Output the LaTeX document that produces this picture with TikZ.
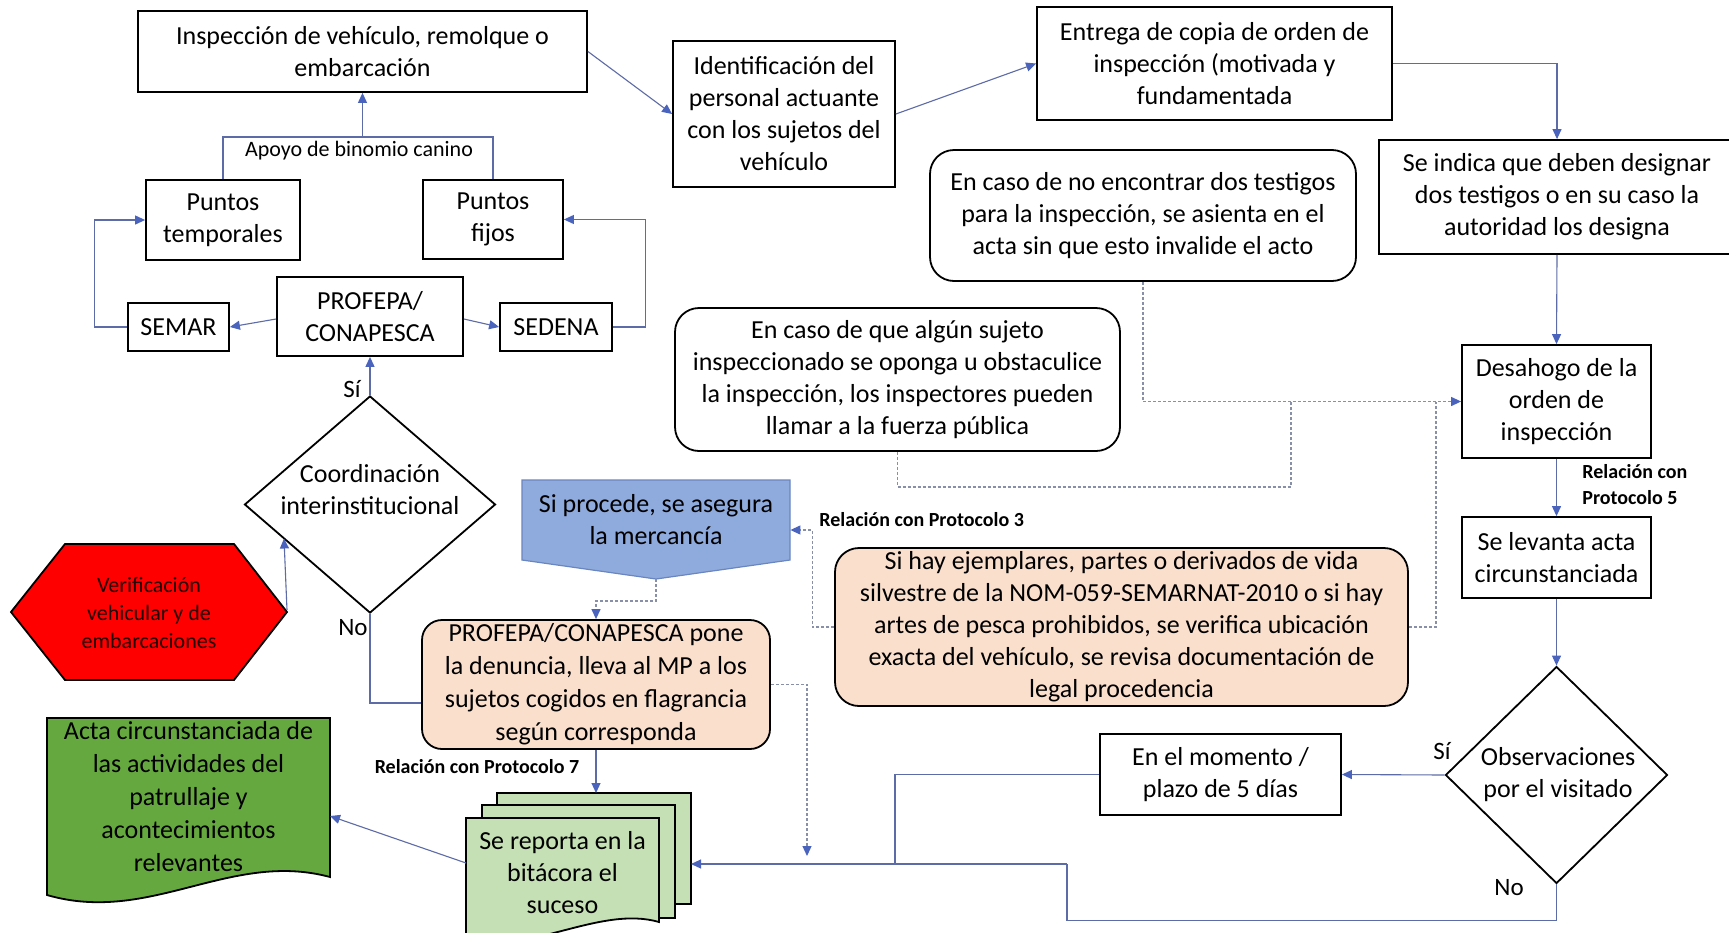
\documentclass[tikz,border=0pt]{standalone}
\usepackage{fontspec}
\setmainfont{Carlito}
\usetikzlibrary{shapes.geometric,arrows.meta,calc}
\definecolor{lnc}{HTML}{5D6BA6}
\definecolor{ahc}{HTML}{4A64BE}
\definecolor{dashc}{HTML}{8890A8}
\definecolor{peach}{HTML}{FADFCD}
\definecolor{lblue}{HTML}{8FAADC}
\definecolor{lblueb}{HTML}{6A86C0}
\definecolor{lgreen}{HTML}{C5E0B4}
\definecolor{dgreen}{HTML}{66A840}
\begin{document}
\begin{tikzpicture}[x=0.5pt,y=-0.5pt,
  mainfs/.style={font=\fontsize{13}{16}\selectfont},
  bx/.style 2 args={draw, line width=0.9pt, minimum width=#1*0.5pt, minimum height=#2*0.5pt, align=center, inner sep=0pt, font=\fontsize{13}{16}\selectfont},
  rbx/.style 2 args={bx={#1}{#2}, rounded corners=12pt},
  conn/.style={draw=lnc, line width=0.55pt},
  arr/.style={conn, -{Triangle[length=5pt,width=4.5pt,color=ahc]}},
  dline/.style={draw=dashc, line width=0.6pt, dash pattern=on 1.5pt off 1pt},
  darr/.style={dline, -{Triangle[length=5pt,width=4.5pt,color=ahc]}},
  lbl/.style={font=\fontsize{10}{13}\selectfont\bfseries, align=left, inner sep=0pt},
  yn/.style={font=\fontsize{12.5}{15}\selectfont, inner sep=0pt},
  shp/.style={draw, line width=0.9pt}
]
\fill[white] (0,0) rectangle (1729,932);
\useasboundingbox (0,0) rectangle (1729,932);

% top row
\node[bx={449}{81}] (insp) at (362.5,51.5) {Inspección de vehículo, remolque o\\embarcación};
\node[bx={222}{146}] (ident) at (784,114) {Identificación del\\personal actuante\\con los sujetos del\\vehículo};
\node[bx={355}{113}] (entrega) at (1214.5,63.5) {Entrega de copia de orden de\\inspección (motivada y\\fundamentada};
\node[bx={356}{114}] (indica) at (1557,197) {Se indica que deben designar\\dos testigos o en su caso la\\autoridad los designa};
\node[rbx={426}{131}] (testigos) at (1143,215.5) {En caso de no encontrar dos testigos\\para la inspección, se asienta en el\\acta sin que esto invalide el acto};
\node[rbx={445}{143}] (fuerza) at (897.5,379.5) {En caso de que algún sujeto\\inspeccionado se oponga u obstaculice\\la inspección, los inspectores pueden\\llamar a la fuerza pública};
\node[bx={189}{113}] (desahogo) at (1556.5,401.5) {Desahogo de la\\orden de\\inspección};
\node[bx={189}{81}] (levanta) at (1556.5,557.5) {Se levanta acta\\circunstanciada};
\node[diamond, draw, line width=0.9pt, minimum width=222*0.5pt, minimum height=217*0.5pt, inner sep=0pt] (obs) at (1556.5,775) {};
\node[mainfs, align=center, inner sep=0pt] (obst) at (1558,775) {Observaciones\\por el visitado};
\node[bx={241}{81}] (momento) at (1220.5,774.5) {En el momento /\\plazo de 5 días};
\node[rbx={573}{158}, fill=peach] (ejem) at (1121.5,627) {Si hay ejemplares, partes o derivados de vida\\silvestre de la NOM-059-SEMARNAT-2010 o si hay\\artes de pesca prohibidos, se verifica ubicación\\exacta del vehículo, se revisa documentación de\\legal procedencia};

% Si procede shape
\path[draw=lblueb, fill=lblue, line width=0.6pt] (522,480) -- (790,480) -- (790,560) -- (656,579) -- (522,560) -- cycle;
\node[mainfs, align=center, inner sep=0pt, minimum width=268*0.5pt, minimum height=80*0.5pt] (procede) at (656,520) {Si procede, se asegura\\la mercancía};
\coordinate (procedetip) at (656,579);

\node[bx={348}{129}, fill=peach, rounded corners=10pt, font=\fontsize{13}{16.5}\selectfont] (pone) at (596,684.5) {PROFEPA/CONAPESCA pone\\la denuncia, lleva al MP a los\\sujetos cogidos en flagrancia\\según corresponda};

% multidocument
\path[shp, fill=lgreen] (497,793) rectangle (691,904);
\path[shp, fill=lgreen] (482,805) rectangle (675,918);
\path[shp, fill=lgreen] (466,818) -- (659,818) -- (659,922) .. controls (600,905) and (530,955) .. (466,940) -- cycle;
\node[mainfs, align=center, inner sep=0pt] (reporta) at (562.5,873) {Se reporta en la\\bitácora el\\suceso};
\coordinate (repL) at (466,863);
\coordinate (repR) at (691,864);
\coordinate (repT) at (596,793);

% acta document
\path[shp, fill=dgreen] (47,718) -- (330,718) -- (330,877) .. controls (230,850) and (150,925) .. (47,895) -- cycle;
\node[font=\fontsize{13}{16.5}\selectfont, align=center, inner sep=0pt] (acta) at (188.5,797) {Acta circunstanciada de\\las actividades del\\patrullaje y\\acontecimientos\\relevantes};
\coordinate (actaR) at (330,816);

% hexagon
\path[shp, fill=red] (11,612) -- (65,544) -- (234,544) -- (287,612) -- (234,680) -- (65,680) -- cycle;
\node[font=\fontsize{11}{14}\selectfont, align=center, inner sep=0pt, text=black!85!red] (verif) at (149,612.5) {Verificación\\vehicular y de\\embarcaciones};
\coordinate (verifR) at (287,610);
\coordinate (verifT) at (284,538.5);

% coordination diamond
\node[diamond, draw, line width=0.9pt, minimum width=251*0.5pt, minimum height=217*0.5pt, inner sep=0pt] (coord) at (370,504.5) {};
\node[mainfs, align=center, inner sep=0pt] (coordt) at (370,490) {Coordinación\\interinstitucional};

\node[bx={186}{79}] (profepa) at (370,316.5) {PROFEPA/\\CONAPESCA};
\node[bx={101}{48}] (semar) at (178.5,327) {SEMAR};
\node[bx={112}{48}] (sedena) at (556,327) {SEDENA};
\node[bx={154}{80}] (ptemp) at (223,220) {Puntos\\temporales};
\node[bx={140}{79}] (pfijos) at (493,219.5) {Puntos\\fijos};

% labels
\node[font=\fontsize{11}{13}\selectfont, inner sep=0pt] (apoyo) at (359,151) {Apoyo de binomio canino};
\node[yn] (si1) at (352,389) {Sí};
\node[yn] (no1) at (353,628) {No};
\node[yn] (si2) at (1442,751) {Sí};
\node[yn] (no2) at (1509,888) {No};
\node[lbl, anchor=west] (rel3) at (819,520) {Relación con Protocolo 3};
\node[lbl, anchor=west] (rel5) at (1582,485) {Relación con\\Protocolo 5};
\node[lbl] (rel7) at (477,767) {Relación con Protocolo 7};

% coordinates for junctions
\coordinate (jn) at (895,864);
\coordinate (jn2) at (1067,864);
\coordinate (jd1) at (1291,401.5);
\coordinate (jd2) at (1436,401.5);
\coordinate (dfree) at (807,856);
\coordinate (ap1) at (223,137);
\coordinate (ap2) at (493,137);
\coordinate (apm) at (362.5,137);

% connectors
\draw[arr] (insp.east) -- (ident.west);
\draw[arr] (ident.east) -- (entrega.west);
\draw[arr] (entrega.east) -| (indica.north);
\draw[arr] (indica.south) -- (desahogo.north);
\draw[arr] (desahogo.south) -- (levanta.north);
\draw[arr] (levanta.south) -- (obs.north);
\draw[arr] (obs.west) -- (momento.east);
\draw[conn] (momento.west) -| (jn);
\draw[arr] (jn2) -- (repR);
\draw[conn] (obs.south) -- ++(0,36) -| (jn2);
\draw[darr] (testigos.south) |- (desahogo.west);
\draw[dline] (fuerza.south) -- ++(0,35) -| (jd1);
\draw[dline] (ejem.east) -| (jd2);
\draw[darr] (ejem.west) -- ++(-22,0) |- ([yshift=-5pt]procede.east);
\draw[darr] (procedetip) -- ++(0,22) -| (pone.north);
\draw[darr] (pone.east) -| (dfree);
\draw[arr] (pone.south) -- (repT);
\draw[arr] (repL) -- (actaR);
\draw[conn] ([yshift=-9.25pt]pone.west) -| (coord.south);
\draw[arr] (verifR) -- (verifT);
\draw[arr] (coord.north) -- (profepa.south);
\draw[arr] ([yshift=-1.25pt]profepa.west) -- (semar.east);
\draw[arr] ([yshift=-1.25pt]profepa.east) -- (sedena.west);
\draw[arr] (semar.west) -- ++(-33,0) |- (ptemp.west);
\draw[arr] (sedena.east) -- ++(33,0) |- (pfijos.east);
\draw[conn] (ptemp.north) -- (ap1) -- (ap2) -- (pfijos.north);
\draw[arr] (apm) -- (insp.south);
\end{tikzpicture}
\end{document}
